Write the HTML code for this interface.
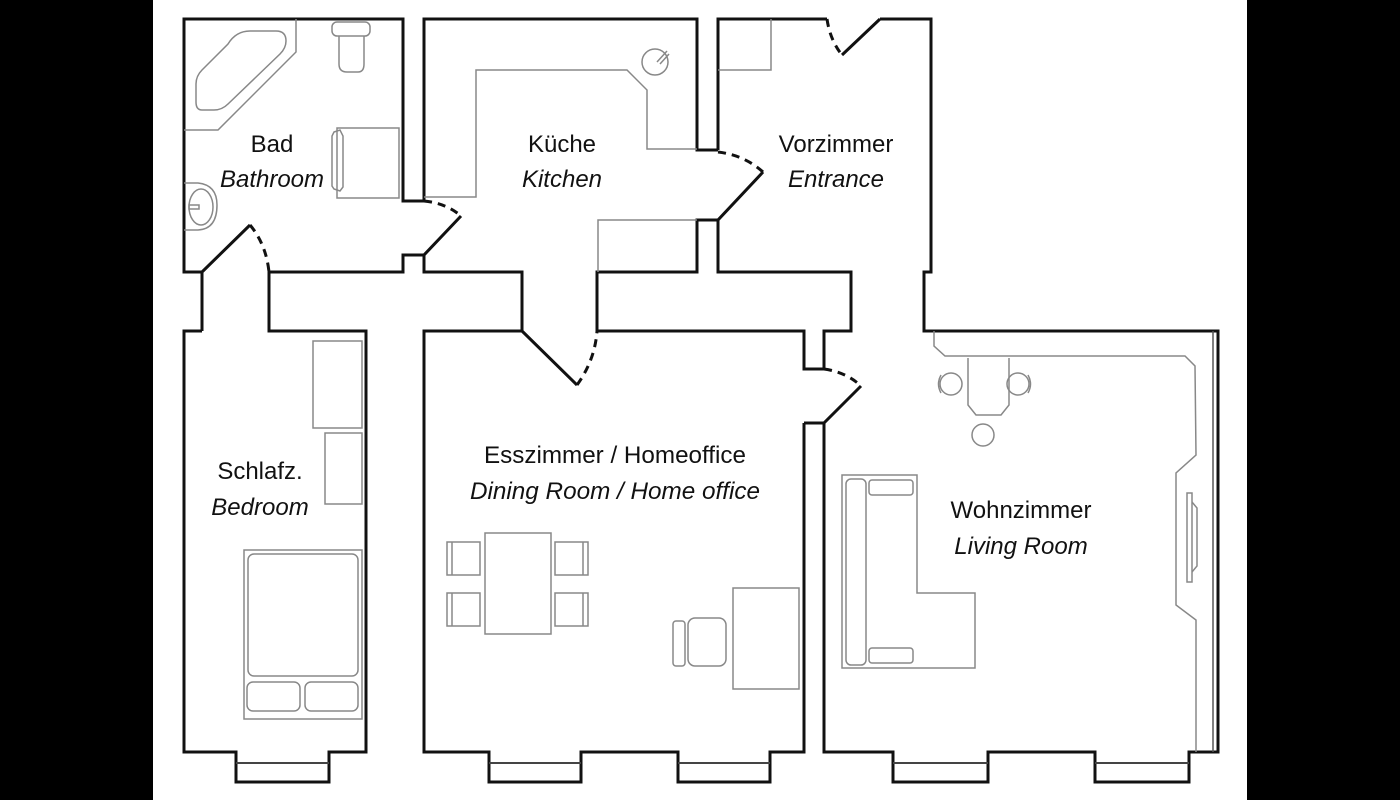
<!DOCTYPE html>
<html><head><meta charset="utf-8"><style>
html,body{margin:0;padding:0;background:#000;}
svg{display:block;}
text{font-family:"Liberation Sans",sans-serif;font-size:24px;fill:#111;text-anchor:middle;}
.i{font-style:italic;}
.w{fill:none;stroke:#111;stroke-width:3;stroke-linejoin:miter;}
.d{fill:none;stroke:#111;stroke-width:3;stroke-dasharray:8,6;}
.g{fill:none;stroke:#888;stroke-width:1.5;}
</style></head><body>
<svg width="1400" height="800" viewBox="0 0 1400 800" xmlns="http://www.w3.org/2000/svg">
<rect x="0" y="0" width="1400" height="800" fill="#000"/>
<rect x="153" y="0" width="1094" height="800" fill="#fff"/>

<!-- walls -->
<path class="w" d="M202,331 L202,272 L184,272 L184,19 L403,19 L403,201 L424,201"/>
<path class="w" d="M424,201 L424,19 L697,19 L697,150 L718,150"/>
<path class="w" d="M718,150 L718,19 L827,19"/>
<path class="w" d="M880,19 L931,19 L931,272 L924,272 L924,331 L1218,331 L1218,752 L1189,752 L1189,782 L1095,782 L1095,752 L988,752 L988,782 L893,782 L893,752 L824,752 L824,423 L861,386"/>
<path class="w" d="M824,369 L824,331 L851,331 L851,272 L718,272 L718,220 L763,172"/>
<path class="w" d="M718,220 L697,220 L697,272 L597,272 L597,331 L804,331 L804,369 L824,369"/>
<path class="w" d="M804,423 L824,423"/>
<path class="w" d="M804,423 L804,752 L770,752 L770,782 L678,782 L678,752 L581,752 L581,782 L489,782 L489,752 L424,752 L424,331 L522,331 L522,272 L424,272 L424,255 L461,216"/>
<path class="w" d="M522,331 L577,385"/>
<path class="w" d="M424,255 L403,255 L403,272 L269,272 L269,331 L366,331 L366,752 L329,752 L329,782 L236,782 L236,752 L184,752 L184,331 L202,331"/>
<path class="w" d="M202,272 L250,225"/>
<path class="w" d="M842,55 L880,19"/>
<!-- doors -->
<path class="d" d="M250,225 Q266,244 269,272"/>
<path class="d" d="M424,201 Q446,203 461,216"/>
<path class="d" d="M577,385 Q595,360 597,331"/>
<path class="d" d="M718,152 Q744,155 763,172"/>
<path class="d" d="M824,369 Q846,372 861,386"/>
<path class="d" d="M827,19 Q830,40 842,55"/>
<!-- window inner lines -->
<path class="g" style="stroke:#444;stroke-width:2" d="M236,763 L329,763 M489,763 L581,763 M678,763 L770,763 M893,763 L988,763 M1095,763 L1189,763"/>

<!-- bathroom -->
<path class="g" d="M296,19 L296,52 L218,130 L184,130"/>
<path class="g" d="M202,110 Q196,110 196,102 L196,84 Q196,76 202,70 L228,44 Q236,31 250,31 L276,31 Q286,31 286,41 Q286,48 280,54 L228,104 Q222,110 214,110 Z"/>
<rect class="g" x="332" y="22" width="38" height="14" rx="5"/>
<path class="g" d="M339,36 L339,64 Q339,72 347,72 L358,72 Q364,72 364,64 L364,36"/>
<rect class="g" x="337" y="128" width="62" height="70"/>
<path class="g" d="M334,132 L340,130 L343,136 L343,187 L340,191 L334,189 L332,186 L332,136 Z"/>
<path class="g" d="M184,183 L198,183 Q217,185 217,205 Q217,229 198,230 L184,230"/>
<ellipse class="g" cx="201" cy="207" rx="12" ry="18"/>
<rect class="g" x="189" y="205" width="10" height="4"/>

<!-- kitchen -->
<path class="g" d="M424,197 L476,197 L476,70 L627,70 L647,90 L647,149 L697,149"/>
<circle class="g" cx="655" cy="62" r="13"/>
<path class="g" d="M657,62 L667,51 M660,64 L669,54"/>
<path class="g" d="M598,272 L598,220 L697,220"/>

<!-- entrance -->
<path class="g" d="M718,70 L771,70 L771,19"/>

<!-- bedroom -->
<rect class="g" x="313" y="341" width="49" height="87"/>
<rect class="g" x="325" y="433" width="37" height="71"/>
<rect class="g" x="244" y="550" width="118" height="169"/>
<rect class="g" x="248" y="554" width="110" height="122" rx="6"/>
<rect class="g" x="247" y="682" width="53" height="29" rx="6"/>
<rect class="g" x="305" y="682" width="53" height="29" rx="6"/>

<!-- dining -->
<rect class="g" x="485" y="533" width="66" height="101"/>
<rect class="g" x="447" y="542" width="33" height="33"/><path class="g" d="M452,542 L452,575"/>
<rect class="g" x="447" y="593" width="33" height="33"/><path class="g" d="M452,593 L452,626"/>
<rect class="g" x="555" y="542" width="33" height="33"/><path class="g" d="M583,542 L583,575"/>
<rect class="g" x="555" y="593" width="33" height="33"/><path class="g" d="M583,593 L583,626"/>
<rect class="g" x="733" y="588" width="66" height="101"/>
<rect class="g" x="688" y="618" width="38" height="48" rx="7"/>
<rect class="g" x="673" y="621" width="12" height="45" rx="3"/>

<!-- living -->
<path class="g" d="M934,331 L934,346 L945,356 L1185,356 L1195,366 L1196,455 L1176,473 L1176,605 L1196,620 L1196,752"/>
<path class="g" style="stroke:#555" d="M1213,331 L1213,752"/>
<rect class="g" x="1187" y="493" width="5" height="89"/>
<path class="g" d="M1192,502 L1197,508 L1197,566 L1192,572"/>
<path class="g" d="M968,358 L968,405 L976,415 L1001,415 L1009,405 L1009,358"/>
<circle class="g" cx="951" cy="384" r="11"/><path class="g" d="M941,375 Q936,384 941,393"/>
<circle class="g" cx="1018" cy="384" r="11"/><path class="g" d="M1028,375 Q1033,384 1028,393"/>
<circle class="g" cx="983" cy="435" r="11"/>
<path class="g" d="M842,475 L917,475 L917,593 L975,593 L975,668 L842,668 Z"/>
<rect class="g" x="846" y="479" width="20" height="186" rx="5"/>
<rect class="g" x="869" y="480" width="44" height="15" rx="3"/>
<rect class="g" x="869" y="648" width="44" height="15" rx="3"/>

<!-- labels -->
<text x="272" y="152">Bad</text>
<text x="272" y="187" class="i">Bathroom</text>
<text x="562" y="152">Küche</text>
<text x="562" y="187" class="i">Kitchen</text>
<text x="836" y="152">Vorzimmer</text>
<text x="836" y="187" class="i">Entrance</text>
<text x="260" y="479">Schlafz.</text>
<text x="260" y="515" class="i">Bedroom</text>
<text x="615" y="463" textLength="262" lengthAdjust="spacingAndGlyphs">Esszimmer / Homeoffice</text>
<text x="615" y="499" class="i" textLength="290" lengthAdjust="spacingAndGlyphs">Dining Room / Home office</text>
<text x="1021" y="518">Wohnzimmer</text>
<text x="1021" y="554" class="i">Living Room</text>
</svg>
</body></html>
